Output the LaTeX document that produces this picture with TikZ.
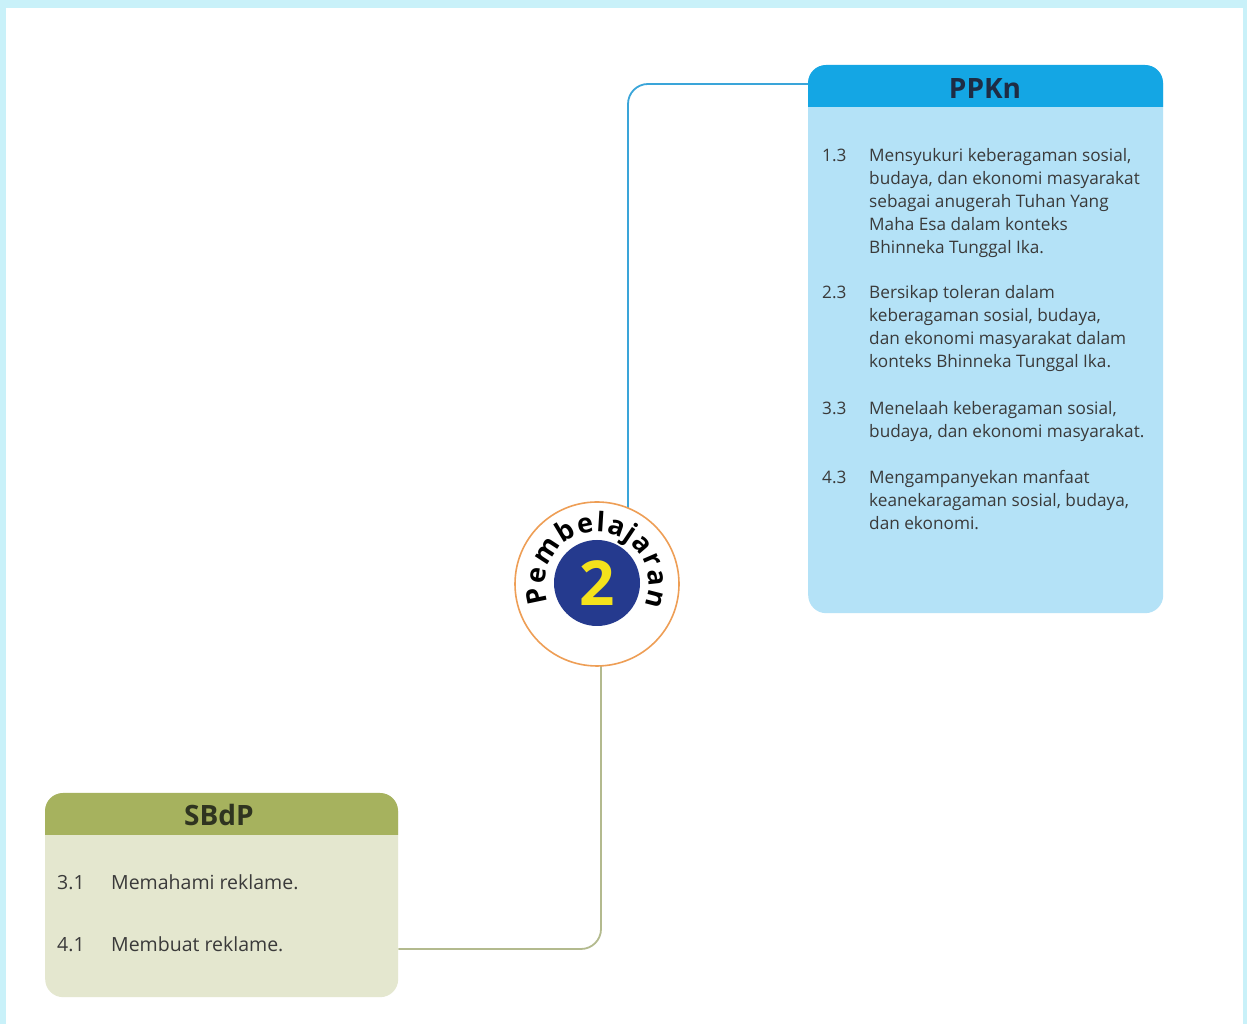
\documentclass[tikz,border=0pt]{standalone}
\usepackage{fontspec}
\setmainfont{Open Sans}
\usetikzlibrary{decorations.text,backgrounds,calc}
\pgfdeclarelayer{framelayer}
\pgfsetlayers{framelayer,background,main}
\definecolor{framecol}{HTML}{C9F1F9}
\definecolor{ppkhdr}{HTML}{14A6E4}
\definecolor{ppkbody}{HTML}{B4E2F7}
\definecolor{sbhdr}{HTML}{A6B25E}
\definecolor{sbbody}{HTML}{E4E7CF}
\definecolor{bluel}{HTML}{3AA5D9}
\definecolor{olivel}{HTML}{B3BA8E}
\definecolor{ringcol}{HTML}{EE9E55}
\definecolor{navy}{HTML}{253A8E}
\definecolor{digit}{HTML}{F4E21C}
\definecolor{txt}{HTML}{3A3A3A}
\definecolor{ppkt}{HTML}{1E2C44}
\definecolor{sbt}{HTML}{2F3420}
\newcommand\arcfnt{\fontsize{27}{27}\selectfont\bfseries}
\begin{document}
\begin{tikzpicture}[x=1pt,y=1pt,
  item/.style={anchor=base west,inner sep=0,text=txt,font=\fontsize{17.2}{20}\selectfont},
  sbitem/.style={anchor=base west,inner sep=0,text=txt,font=\fontsize{19.5}{22}\selectfont},
  ttl/.style={inner sep=0,font=\fontsize{28}{30}\selectfont\bfseries}]
\useasboundingbox (0,0) rectangle (1247,1024);
\begin{pgfonlayer}{framelayer}
\fill[framecol] (0,0) rectangle (1247,1024);
\fill[white] (6,0) rectangle (1243,1016);
\end{pgfonlayer}
% PPKn box
\node[fill=ppkbody,rounded corners=18,minimum width=355,minimum height=548,inner sep=0,anchor=north west] (ppkn) at (808,959) {};
\fill[ppkhdr,rounded corners=18] (808,917) |- (1163,959) -- (1163,917);
\node[ttl,text=ppkt] (ppknt) at (985,935) {PPKn};
\node[item] (n13) at (822,862) {1.3};
\foreach \t [count=\i] in {{Mensyukuri keberagaman sosial,},{budaya, dan ekonomi masyarakat},{sebagai anugerah Tuhan Yang},{Maha Esa dalam konteks},{Bhinneka Tunggal Ika.}}
  \node[item] (p13-\i) at (869,{862-23*(\i-1)}) {\t};
\node[item] (n23) at (822,725) {2.3};
\foreach \t [count=\i] in {{Bersikap toleran dalam},{keberagaman sosial, budaya,},{dan ekonomi masyarakat dalam},{konteks Bhinneka Tunggal Ika.}}
  \node[item] (p23-\i) at (869,{725-23*(\i-1)}) {\t};
\node[item] (n33) at (822,609) {3.3};
\foreach \t [count=\i] in {{Menelaah keberagaman sosial,},{budaya, dan ekonomi masyarakat.}}
  \node[item] (p33-\i) at (869,{609-23*(\i-1)}) {\t};
\node[item] (n43) at (822,540) {4.3};
\foreach \t [count=\i] in {{Mengampanyekan manfaat},{keanekaragaman sosial, budaya,},{dan ekonomi.}}
  \node[item] (p43-\i) at (869,{540-23*(\i-1)}) {\t};
% SBdP box
\node[fill=sbbody,rounded corners=18,minimum width=353,minimum height=204,inner sep=0,anchor=north west] (sbdp) at (45,231) {};
\fill[sbhdr,rounded corners=18] (45,189) |- (398,231) -- (398,189);
\node[ttl,text=sbt] (sbdpt) at (219,209) {SBdP};
\node[sbitem] (n31) at (57,134) {3.1};
\node[sbitem] (s31) at (111,134) {Memahami reklame.};
\node[sbitem] (n41) at (57,72) {4.1};
\node[sbitem] (s41) at (111,72) {Membuat reklame.};
% center badge
\node[circle,draw=ringcol,line width=1.6,fill=white,minimum size=164,inner sep=0] (pb) at (597,440) {};
\node[circle,fill=navy,minimum size=86,inner sep=0,text=digit,font=\fontsize{62}{62}\selectfont\bfseries] (num) at (597,441) {2};
\path[decorate,decoration={text along path,text={|\arcfnt|Pembelajaran},text align={fit to path}}]
  (pb.center) ++(201:52) arc (201:-24:52);
% connectors
\coordinate (bjoin) at (628,940);
\coordinate (ojoin) at (398,75);
\begin{scope}[on background layer]
\draw[bluel,line width=1.8,rounded corners=20] (ppkn.west |- bjoin) -| ($(pb.center)+(31,0)$);
\draw[olivel,line width=1.8,rounded corners=20] ($(pb.center)+(4,0)$) |- (sbdp.east |- ojoin);
\end{scope}
\end{tikzpicture}
\end{document}
